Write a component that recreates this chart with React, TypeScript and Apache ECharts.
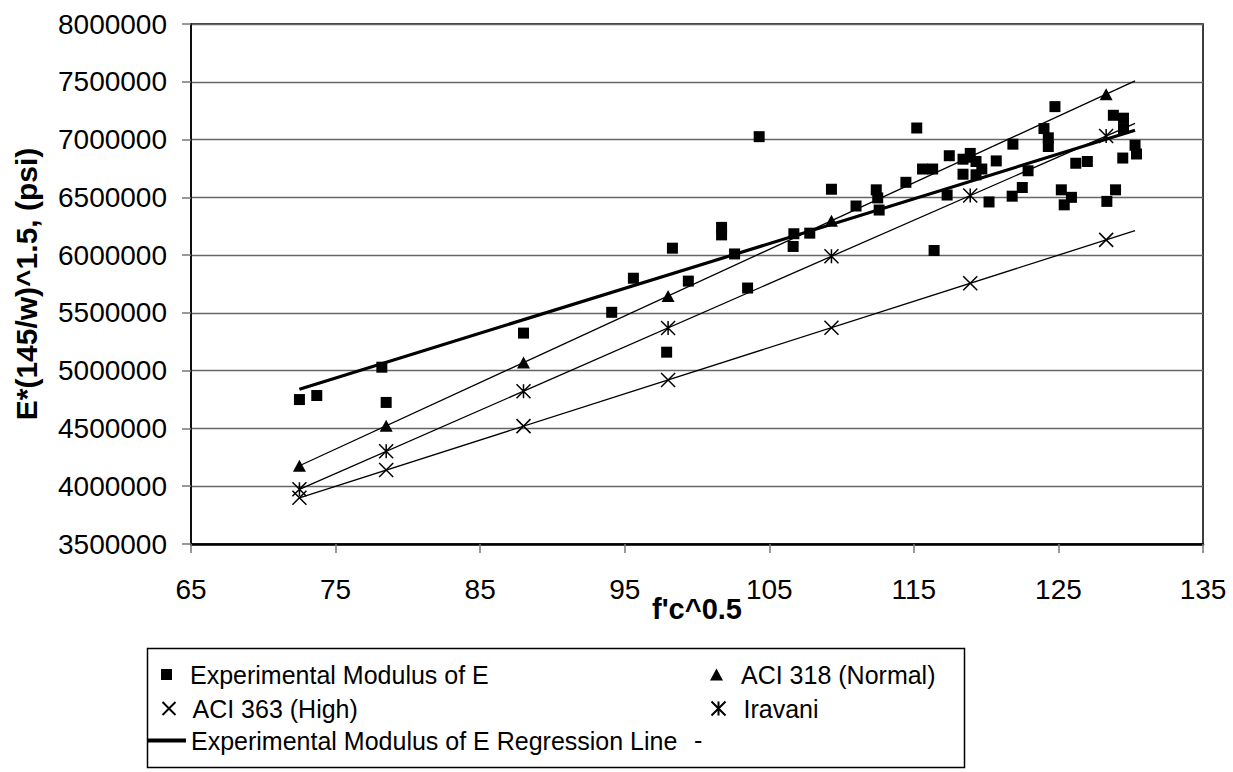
import React, { useEffect, useRef } from "react";
import * as echarts from "echarts";

// Experimental data: f'c^0.5 and E*(145/w)^1.5 (psi)
const expX = [72.5, 73.7, 78.2, 78.5, 88.0, 94.1, 95.6, 97.9, 98.3, 99.4, 101.7, 101.7, 102.6, 103.5, 104.3, 106.7, 106.65, 107.8, 109.3, 111.0, 112.4, 112.5, 112.6, 114.45, 115.2, 115.6, 116.3, 116.4, 117.3, 117.45, 118.4, 118.9, 118.4, 119.3, 119.7, 119.3, 120.7, 120.2, 121.85, 121.8, 122.5, 122.9, 124.0, 124.3, 124.3, 124.76, 125.2, 125.9, 125.4, 126.2, 127.0, 128.8, 129.5, 129.5, 130.3, 130.4, 129.45, 128.95, 128.35];
const expY = [4750000, 4785000, 5030000, 4725000, 5325000, 5505000, 5800000, 5160000, 6060000, 5775000, 6240000, 6175000, 6010000, 5715000, 7025000, 6185000, 6075000, 6190000, 6570000, 6425000, 6565000, 6495000, 6390000, 6630000, 7100000, 6745000, 6745000, 6040000, 6520000, 6860000, 6830000, 6880000, 6700000, 6695000, 6745000, 6810000, 6815000, 6460000, 6960000, 6510000, 6585000, 6730000, 7095000, 7015000, 6940000, 7285000, 6565000, 6500000, 6435000, 6795000, 6810000, 7210000, 7185000, 7095000, 6950000, 6875000, 6840000, 6565000, 6465000];

// Model predictions at the tested strengths
const modelX = [72.5, 78.5, 88.0, 98.0, 109.3, 118.9, 128.3];
const aci318Y = [4177000, 4523000, 5070000, 5647000, 6298000, 6851000, 7392000];
const aci363Y = [3900000, 4140000, 4520000, 4920000, 5372000, 5756000, 6132000];
const iravaniY = [3973000, 4302000, 4822000, 5370000, 5990000, 6516000, 7031000];

// Straight lines drawn across the data range
const lineX = [72.5, 130.3];
const aci318Line = [4177000, 7508000];
const aci363Line = [3900000, 6212000];
const iravaniLine = [3973000, 7140000];
const regressionLine = [4840000, 7080000];

const xTicks = [65, 75, 85, 95, 105, 115, 125, 135];

const N_EXP = "Experimental Modulus of E";
const N_318 = "ACI 318 (Normal)";
const N_363 = "ACI 363 (High)";
const N_IRA = "Iravani";
const N_REG = "Experimental Modulus of E Regression Line";

const FONT = "'Liberation Sans', Arial, Helvetica, sans-serif";
const X_PATH = "path://M0,0L10,10M10,0L0,10";
const STAR_PATH = "path://M0,0L10,10M10,0L0,10M5,0L5,10";

const zip = (xs: number[], ys: number[]) => xs.map((x, i) => [x, ys[i]]);

function legendItem(name: string, left: number, top: number, w: number, h: number, pad: number, icon?: string) {
  return {
    show: true,
    left,
    top,
    padding: 0,
    itemWidth: w,
    itemHeight: h,
    itemGap: 0,
    selectedMode: false,
    data: [icon ? { name, icon } : name],
    textStyle: { fontSize: 25, fontFamily: FONT, color: "#000", padding: [0, 0, 0, pad] },
  };
}

export default function App() {
  const ref = useRef<HTMLDivElement>(null);
  useEffect(() => {
    if (!ref.current) return;
    const chart = echarts.init(ref.current, null, { renderer: "svg" });
    const thin = { color: "#000", width: 1.3 };
    chart.setOption({
      animation: false,
      backgroundColor: "#fff",
      grid: {
        left: 191,
        top: 24,
        width: 1012,
        height: 520,
        show: true,
        borderColor: "#000",
        borderWidth: 1.5,
      },
      xAxis: {
        type: "value",
        min: 65,
        max: 135,
        name: "f'c^0.5",
        nameLocation: "middle",
        nameGap: 50,
        nameMoveOverlap: false,
        nameTextStyle: { fontSize: 29, fontWeight: "bold", fontFamily: FONT, color: "#000" },
        axisLine: { show: true, lineStyle: { color: "#000", width: 2.5 } },
        axisTick: { show: true, length: 9, customValues: xTicks, lineStyle: { color: "#777", width: 1.5 } },
        axisLabel: { customValues: xTicks, margin: 31, fontSize: 28, fontFamily: FONT, color: "#000" },
        splitLine: { show: false },
      },
      yAxis: {
        type: "value",
        min: 3500000,
        max: 8000000,
        interval: 500000,
        name: "E*(145/w)^1.5, (psi)",
        nameLocation: "middle",
        nameGap: 150,
        nameMoveOverlap: false,
        nameTextStyle: { fontSize: 30, fontWeight: "bold", fontFamily: FONT, color: "#000" },
        axisLine: { show: true, lineStyle: { color: "#000", width: 1.5 } },
        axisTick: { show: true, length: 9, lineStyle: { color: "#777", width: 1.5 } },
        axisLabel: {
          margin: 24,
          fontSize: 28,
          fontFamily: FONT,
          color: "#000",
          formatter: (v: number) => String(v),
        },
        splitLine: { show: true, lineStyle: { color: "#666", width: 1.3 } },
      },
      legend: [
        legendItem(N_EXP, 161, 662, 11, 11, 13),
        legendItem(N_318, 710, 662, 13, 12, 13),
        legendItem(N_363, 160, 696, 13, 13, 12),
        legendItem(N_IRA, 709, 696, 14, 14, 13),
        legendItem(N_REG, 147, 728, 39, 4, 0, "rect"),
      ],
      graphic: [
        {
          type: "rect",
          left: 145,
          top: 646,
          shape: { width: 817, height: 119 },
          style: { fill: "none", stroke: "#000", lineWidth: 1.5 },
          silent: true,
        },
        {
          type: "text",
          left: 694,
          top: 727,
          style: { text: "-", fontSize: 25, fontFamily: FONT, fill: "#000" },
          silent: true,
        },
      ],
      series: [
        {
          name: "ACI 318 line",
          type: "line",
          data: zip(lineX, aci318Line),
          symbol: "none",
          lineStyle: thin,
          silent: true,
          z: 2,
        },
        {
          name: "ACI 363 line",
          type: "line",
          data: zip(lineX, aci363Line),
          symbol: "none",
          lineStyle: thin,
          silent: true,
          z: 2,
        },
        {
          name: "Iravani line",
          type: "line",
          data: zip(lineX, iravaniLine),
          symbol: "none",
          lineStyle: thin,
          silent: true,
          z: 2,
        },
        {
          name: N_REG,
          type: "line",
          data: zip(lineX, regressionLine),
          symbol: "none",
          showSymbol: false,
          color: "#000",
          itemStyle: { color: "#000" },
          lineStyle: { color: "#000", width: 3.2 },
          silent: true,
          z: 3,
        },
        {
          name: N_318,
          type: "scatter",
          data: zip(modelX, aci318Y),
          symbol: "triangle",
          symbolSize: [13, 12],
          itemStyle: { color: "#000", opacity: 1 },
          z: 4,
        },
        {
          name: N_363,
          type: "scatter",
          data: zip(modelX, aci363Y),
          symbol: X_PATH,
          symbolSize: 14,
          itemStyle: { color: "none", borderColor: "#000", borderWidth: 1.5, opacity: 1 },
          z: 4,
        },
        {
          name: N_IRA,
          type: "scatter",
          data: zip(modelX, iravaniY),
          symbol: STAR_PATH,
          symbolSize: 14,
          itemStyle: { color: "none", borderColor: "#000", borderWidth: 1.5, opacity: 1 },
          z: 4,
        },
        {
          name: N_EXP,
          type: "scatter",
          data: zip(expX, expY),
          symbol: "rect",
          symbolSize: 11,
          itemStyle: { color: "#000", opacity: 1 },
          z: 5,
        },
      ],
    });
    return () => chart.dispose();
  }, []);
  return (
    <div
      ref={ref}
      style={{ position: "absolute", left: 0, top: 0, width: 1233, height: 772, background: "#fff" }}
    />
  );
}
